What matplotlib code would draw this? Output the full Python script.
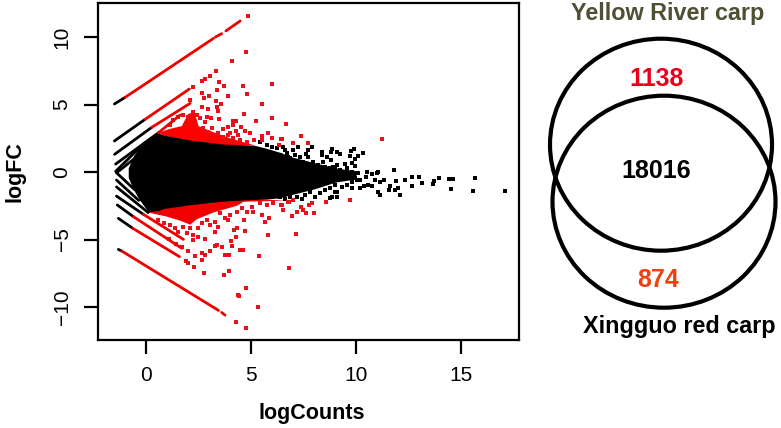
# MA plot with venn diagram next to it
import matplotlib
matplotlib.use("Agg")
import matplotlib.pyplot as plt
from matplotlib.patches import Ellipse

plt.rcParams['font.family'] = ['Liberation Sans', 'DejaVu Sans']

# rows of discrete values: x0, y0, x1, y1
black_rows = [
    (-1.51, 5.04, -1.0, 5.53), (-1.51, 2.30, -0.05, 3.90), (-1.5, 1.31, 0.27, 3.31),
    (-1.45, 0.59, 0.59, 2.91), (-1.45, 0.05, -0.05, 2.2), (-1.4, -0.05, -0.55, 1.0),
    (-1.41, -0.05, -0.55, -1.30), (-1.41, -0.59, -0.35, -2.1), (-1.41, -1.10, 0.10, -3.0),
    (-1.41, -1.78, -0.13, -3.13), (-1.37, -2.44, -0.60, -3.31), (-1.32, -3.43, -0.63, -4.17),
    (-1.32, -5.73, -1.16, -5.85),
]
red_rows = [
    (-1.0, 5.53, 3.21, 9.90), (3.3, 10.0, 3.6, 10.25), (3.8, 10.45, 4.48, 11.19),
    (-0.05, 3.90, 2.06, 6.15), (0.27, 3.31, 2.10, 5.09), (0.59, 2.91, 1.62, 4.22),
    (-0.13, -3.13, 1.78, -4.99), (-0.60, -3.31, 1.70, -5.65), (-0.63, -4.17, 1.59, -6.27),
    (-1.16, -5.85, 3.45, -10.25), (3.6, -10.4, 3.76, -10.6),
]

# dense black body
core_x = [-0.85, -0.6, -0.3, 0.11, 0.59, 0.83, 2.1, 3.68, 5.11, 5.75, 6.4, 6.85, 8.0, 9.0, 10.0]
core_top = [0.3, 1.2, 1.9, 2.55, 2.88, 2.74, 2.37, 2.07, 2.0, 1.75, 1.45, 1.15, 0.7, 0.3, 0.1]
core_bottom = [-0.4, -1.3, -2.1, -2.95, -2.85, -2.7, -2.42, -2.15, -2.03, -2.0, -1.9, -1.7, -1.25, -0.75, -0.5]

# dense red parts
blob_up_x = [0.59, 1.14, 1.7, 2.0, 2.3, 2.5, 3.2, 4.0, 5.11, 3.68, 2.1, 0.83]
blob_up_y = [2.91, 3.2, 3.4, 4.3, 4.45, 3.4, 2.95, 2.5, 2.0, 2.0, 2.3, 2.7]
blob_low_x = [0.11, 0.98, 1.62, 2.1, 2.41, 3.2, 4.32, 4.64, 6.7, 5.1, 3.68, 2.1, 0.83]
blob_low_y = [-3.0, -3.3, -3.6, -3.9, -3.5, -3.0, -2.5, -2.2, -2.12, -2.0, -2.1, -2.4, -2.7]

black_x = [17.10, 15.68, 15.55, 14.63, 14.43, 14.54, 13.94, 13.73, 13.68, 13.13, 13.02, 12.67, 12.65,
           12.32, 12.10, 12.02, 11.87, 11.90, 11.80, 11.62, 11.59, 11.35, 11.14, 11.14, 11.03, 10.92,
           11.06, 10.98, 10.75, 10.76, 10.59, 10.40, 10.21, 10.54, 10.48, 10.32, 10.11, 9.95, 9.91,
           9.75, 9.71, 9.79, 9.94, 9.24, 9.11, 8.84, 8.79, 8.40, 8.37, 8.60, 8.79, 7.92, 7.73, 7.62,
           7.25, 6.98, 6.51, 9.11, 9.47, 8.92, 8.76, 9.11, 9.11, 7.44, 6.60, 9.79, 10.06,
           6.70, 6.86, 7.09, 7.33, 7.49, 7.73, 7.97, 8.21, 8.44, 8.52, 8.76, 9.00, 9.24, 9.55, 9.79, 10.11,
           9.79, 9.55, 9.32, 9.00, 8.76, 8.52, 8.29, 8.05, 7.81, 7.57, 7.17, 6.86, 6.38, 10.19, 9.95, 9.00, 8.84,
           5.43, 5.75, 5.98, 6.22, 6.38, 6.62, 6.78]
black_y = [-1.43, -0.42, -1.38, -0.52, -0.52, -1.26, -0.47, -0.69, -0.86, -0.81, -0.35, -1.04, -0.35,
           -0.57, -1.73, -1.16, -1.31, -0.69, 0.12, -1.04, -1.33, -0.62, -0.77, -1.70, -1.46, -0.62,
           -0.03, -0.10, -0.17, -1.04, -0.97, -1.01, -1.19, 0.03, -0.35, 1.38, 1.18, 0.94, 1.68,
           1.58, 1.21, 0.64, 0.45, 1.33, 1.46, 1.68, 1.46, 1.46, 1.26, 1.14, 0.89, 1.88, 1.63, 1.33,
           1.83, 1.63, 1.83, 0.52, 0.59, 0.40, -1.95, -1.83, -1.50, -2.0, -2.0, -1.20, -0.60,
           1.38, 1.01, 1.26, 1.13, 0.76, 1.13, 0.76, 0.51, 0.76, 0.39, 0.27, 0.39, 0.14, 0.27, 0.02, -0.10,
           -0.72, -0.97, -1.09, -0.97, -1.21, -1.34, -1.58, -1.83, -1.46, -1.71, -1.83, -1.88, -1.88, -0.60, -0.47, -1.46, -1.88,
           2.25, 2.0, 1.88, 1.75, 1.26, 1.63, 1.14]

red_x = [4.84, 4.75, 4.11, 3.33, 3.05, 2.81, 2.65, 3.49, 3.70, 3.38, 4.63, 6.00, 4.79, 3.89, 2.65, 2.98,
         2.78, 3.32, 3.56, 3.37, 3.44, 5.52, 2.22, 2.10, 4.67, 6.00, 5.22, 6.67, 3.49, 3.10, 2.89, 2.97,
         2.65, 4.16, 4.29, 4.16, 3.89, 4.51, 3.68, 4.29, 4.71, 4.95, 5.83, 5.98, 5.51, 6.46, 5.16, 5.54,
         6.35, 4.40, 4.00,
         1.14, 1.30, 1.54, 1.78, 2.02, 2.25, 2.41, 2.57, 2.81, 2.73, 2.97, 3.13, 3.44, 3.68, 3.92, 4.16, 4.48, 4.79,
         11.24, 6.67, 7.37, 6.43, 6.99, 7.70, 9.73, 8.59, 7.90, 7.78, 7.36, 7.49, 7.62, 7.98, 7.17, 6.95,
         7.14, 6.83, 7.00, 6.51, 6.43,
         4.75, 4.30, 5.33, 4.40, 4.44, 4.75, 2.78, 3.71, 3.97, 2.27, 1.98, 1.89, 2.65, 2.35, 2.81, 2.65,
         3.05, 2.00, 3.76, 3.97, 5.38, 6.83, 4.48, 4.60, 3.37, 3.60, 3.29, 4.08, 4.03, 4.29, 2.81, 2.49,
         2.25, 1.11, 1.43, 1.70, 5.83, 4.73, 4.32, 4.20, 3.29, 3.44, 5.67, 5.87, 4.64, 3.92, 5.50, 6.50,
         5.11,
         0.59, 0.83, 1.14, 1.38, 1.54, 1.78, 1.94, 2.10, 2.25, 2.49, 2.65, 2.89, 3.05, 3.29, 3.52, 3.76,
         4.00, 4.32, 4.55, 4.79, 5.03, 5.43, 5.75, 6.06, 6.46, 6.78]
red_y = [11.58, 8.87, 8.23, 7.46, 7.11, 6.91, 6.74, 6.69, 6.39, 6.07, 6.39, 6.49, 5.78, 5.63, 5.83, 5.65,
         5.46, 5.26, 5.06, 4.84, 4.52, 5.06, 6.27, 5.33, 4.32, 3.97, 3.78, 3.56, 3.90, 3.97, 4.10, 4.67,
         4.79, 3.80, 3.78, 3.48, 3.36, 3.31, 3.16, 3.06, 3.06, 2.86, 2.86, 2.54, 2.67, 2.42, 2.37, 2.37,
         2.00, 2.74, 2.91,
         3.48, 3.85, 4.10, 4.22, 4.10, 4.47, 4.22, 3.97, 3.73, 3.23, 2.99, 3.23, 2.86, 2.62, 2.74, 2.49, 2.37, 2.25,
         2.47, 3.56, 2.69, 2.42, 2.12, 2.17, -2.07, -2.24, -2.32, -2.44, -2.57, -2.81, -3.0, -3.0, -2.94, -3.23,
         -4.62, -2.24, -2.07, -2.81, -2.44,
         -11.58, -11.11, -10.02, -9.11, -9.18, -8.62, -7.51, -7.60, -7.30, -7.04, -6.72, -6.62, -6.52, -6.22, -6.17, -5.98,
         -5.85, -5.88, -6.17, -6.17, -6.22, -7.14, -5.78, -5.80, -5.41, -5.58, -5.48, -5.48, -5.09, -4.79, -4.99, -4.79,
         -5.04, -4.99, -5.33, -5.58, -4.67, -4.40, -4.17, -4.30, -4.42, -4.05, -3.73, -3.43, -3.56, -3.56, -3.20, -2.81,
         -2.94,
         -3.56, -3.80, -3.93, -4.17, -4.42, -4.05, -4.54, -4.17, -4.67, -4.17, -3.80, -3.56, -3.93, -3.68, -3.06, -3.43,
         -3.19, -2.94, -2.69, -2.94, -2.57, -2.32, -2.44, -2.32, -2.44, -2.20]

x_ticks = [0, 5, 10, 15]
y_ticks = [-10, -5, 0, 5, 10]

fig = plt.figure(figsize=(7.81, 4.28), dpi=100)
ax = fig.add_axes([98 / 781, 1 - 340 / 428, (519 - 98) / 781, (340 - 3) / 428])

for x0, y0, x1, y1 in black_rows:
    ax.plot([x0, x1], [y0, y1], color='black', lw=2.0, solid_capstyle='round')
for x0, y0, x1, y1 in red_rows:
    ax.plot([x0, x1], [y0, y1], color='#ee0000', lw=2.0, solid_capstyle='round')

ax.fill(blob_up_x, blob_up_y, color='#ff0000', lw=0)
ax.fill(blob_low_x, blob_low_y, color='#f00000', lw=0)
ax.fill_between(core_x, core_bottom, core_top, color='black', lw=0)

ax.scatter(black_x, black_y, s=6, c='black', marker='s', linewidths=0)
ax.scatter(red_x, red_y, s=6, c='#e8101a', marker='s', linewidths=0)

ax.set_xlim(-2.29, 17.76)
ax.set_ylim(-12.44, 12.52)
ax.set_xticks(x_ticks)
ax.set_yticks(y_ticks)
ax.tick_params(length=10, width=1.6, labelsize=15, pad=9)
for lab in ax.get_yticklabels():
    lab.set_rotation(90)
    lab.set_va('center')
for s in ax.spines.values():
    s.set_linewidth(1.6)

# overlay in pixel units for labels and venn
ov = fig.add_axes([0, 0, 1, 1])
ov.set_xlim(0, 781)
ov.set_ylim(428, 0)
ov.axis('off')
ov.patch.set_alpha(0)

ov.text(15, 172, 'logFC', rotation=90, fontsize=15.5, fontweight='bold', ha='center', va='center')
ov.text(312, 413, 'logCounts', fontsize=15.5, fontweight='bold', ha='center', va='center')

ov.add_patch(Ellipse((661, 144.7), 222, 212, fill=False, ec='black', lw=3))
ov.add_patch(Ellipse((664, 201.7), 223, 212, fill=False, ec='black', lw=3))

ov.text(668, 13, 'Yellow River carp', color='#4f4f34', fontsize=16.8, fontweight='bold', ha='center', va='center')
ov.text(657, 79, '1138', color='#e8001c', fontsize=18, fontweight='bold', ha='center', va='center')
ov.text(656, 171, '18016', color='black', fontsize=18, fontweight='bold', ha='center', va='center')
ov.text(658, 280, '874', color='#f04010', fontsize=18, fontweight='bold', ha='center', va='center')
ov.text(679, 326, 'Xingguo red carp', color='black', fontsize=16.8, fontweight='bold', ha='center', va='center')

fig.savefig('out.png', dpi=100)
